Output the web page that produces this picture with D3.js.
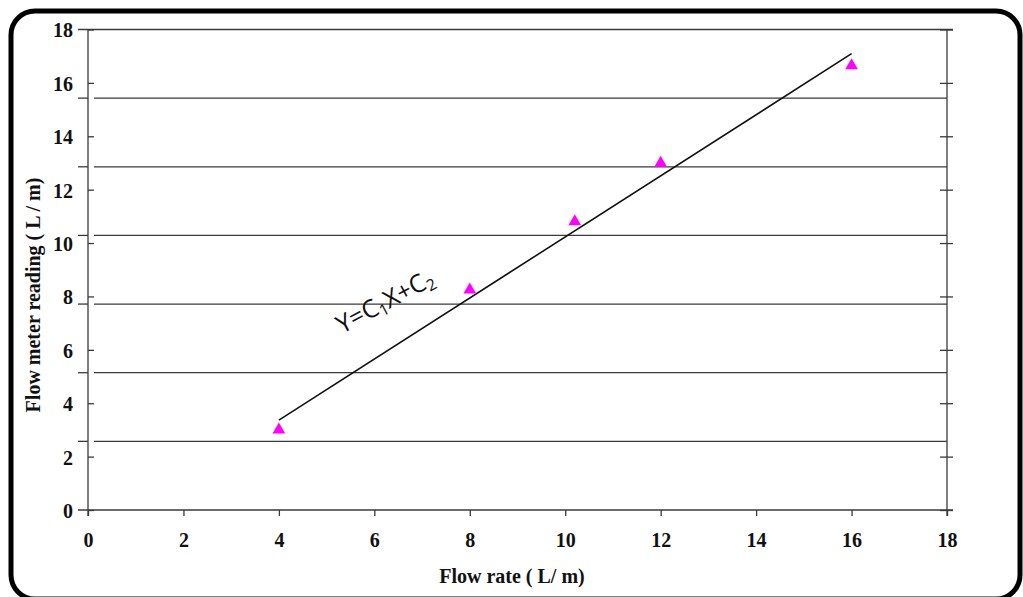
<!DOCTYPE html>
<html>
<head>
<meta charset="utf-8">
<script src="https://cdn.jsdelivr.net/npm/d3@7"></script>
<style>
  html, body { margin: 0; padding: 0; background: #fff; }
  svg { display: block; }
  .tick text { font-family: "Liberation Serif", "Times New Roman", serif; font-weight: bold; font-size: 20px; fill: #111; }
  .axis path.domain { display: none; }
  .axis line { stroke: #3a3a3a; stroke-width: 1.3; }
</style>
</head>
<body>
<svg id="chart" width="1023" height="597"></svg>
<script>
// Measured points: actual flow rate vs. flow meter reading
const flowRate   = [4, 8, 10.2, 12, 16];
const meterRead  = [3.0, 8.25, 10.8, 13.0, 16.65];

// Linear fit Y = C1*X + C2 drawn over the measured range
const fitC1 = 1.144;
const fitC2 = -1.21;
const fitRange = [4, 16];

// Axis ticks and horizontal reference lines
const xTicks = [0, 2, 4, 6, 8, 10, 12, 14, 16, 18];
const yTicks = [0, 2, 4, 6, 8, 10, 12, 14, 16, 18];
const refLines = [1, 2, 3, 4, 5, 6].map(k => k * 18 / 7);

const svg = d3.select("#chart");

// Rounded outer frame
svg.append("rect")
  .attr("x", 11).attr("y", 11)
  .attr("width", 1009).attr("height", 588)
  .attr("rx", 24).attr("ry", 24)
  .attr("fill", "none").attr("stroke", "#000").attr("stroke-width", 5);

const x = d3.scaleLinear().domain([0, 18]).range([88, 947]);
const y = d3.scaleLinear().domain([0, 18]).range([510, 29.5]);

const lineColor = "#3a3a3a";
const g = svg.append("g");

// Horizontal reference lines, with short outer stubs left of the axis
g.selectAll("line.ref").data(refLines).join("line")
  .attr("class", "ref")
  .attr("x1", x(0) + 6).attr("x2", x(18))
  .attr("y1", d => y(d)).attr("y2", d => y(d))
  .attr("stroke", lineColor).attr("stroke-width", 1.3);
g.selectAll("line.stub").data(refLines).join("line")
  .attr("class", "stub")
  .attr("x1", x(0) - 10).attr("x2", x(0))
  .attr("y1", d => y(d)).attr("y2", d => y(d))
  .attr("stroke", lineColor).attr("stroke-width", 1.3);

// Top and bottom boundary lines
g.selectAll("line.edge").data([0, 18]).join("line")
  .attr("class", "edge")
  .attr("x1", x(0) - 10).attr("x2", x(18) + 6)
  .attr("y1", d => y(d)).attr("y2", d => y(d))
  .attr("stroke", lineColor).attr("stroke-width", 1.3);

// Left and right vertical axis lines
g.selectAll("line.vax").data([0, 18]).join("line")
  .attr("class", "vax")
  .attr("x1", d => x(d)).attr("x2", d => x(d))
  .attr("y1", y(18)).attr("y2", y(0) + 6)
  .attr("stroke", lineColor).attr("stroke-width", 1.3);

// Bottom axis
svg.append("g").attr("class", "axis")
  .attr("transform", `translate(0,${y(0)})`)
  .call(d3.axisBottom(x).tickValues(xTicks).tickSize(6).tickPadding(17).tickFormat(d3.format("d")));

// Left axis, ticks pointing inward
svg.append("g").attr("class", "axis")
  .attr("transform", `translate(${x(0)},0)`)
  .call(d3.axisLeft(y).tickValues(yTicks).tickSizeInner(-6).tickSizeOuter(0).tickPadding(15).tickFormat(d3.format("d")))
  .selectAll("text").attr("dy", "0.37em");

// Right axis, ticks crossing the line, no labels
svg.append("g").attr("class", "axis")
  .attr("transform", `translate(${x(18)},0)`)
  .call(d3.axisRight(y).tickValues(yTicks).tickSize(6).tickFormat(""))
  .selectAll("line").attr("x1", -7);

// Fit line
svg.append("line")
  .attr("x1", x(fitRange[0])).attr("y1", y(fitC1 * fitRange[0] + fitC2))
  .attr("x2", x(fitRange[1])).attr("y2", y(fitC1 * fitRange[1] + fitC2))
  .attr("stroke", "#111").attr("stroke-width", 1.6);

// Measured points as magenta triangles
const tri = d3.symbol().type(d3.symbolTriangle).size(70);
svg.selectAll("path.pt").data(flowRate.map((v, i) => [v, meterRead[i]])).join("path")
  .attr("class", "pt")
  .attr("d", tri)
  .attr("transform", d => `translate(${x(d[0])},${y(d[1])})`)
  .attr("fill", "#ff00ff");

// Equation label along the fit line
const eq = svg.append("text")
  .attr("transform", "translate(342,334) rotate(-28)")
  .attr("font-family", "'Open Sans', 'Liberation Sans', sans-serif")
  .attr("font-size", 25)
  .attr("fill", "#111");
eq.append("tspan").text("Y=C");
eq.append("tspan").text("1").attr("font-size", 16).attr("dy", 4);
eq.append("tspan").text("X+C").attr("dy", -4);
eq.append("tspan").text("2").attr("font-size", 16).attr("dy", 4);

// Axis titles
svg.append("text")
  .attr("x", 512).attr("y", 583)
  .attr("text-anchor", "middle")
  .attr("font-family", "'Liberation Serif', 'Times New Roman', serif")
  .attr("font-weight", "bold").attr("font-size", 20)
  .attr("fill", "#111")
  .text("Flow rate  ( L/ m)");

svg.append("text")
  .attr("transform", "translate(40,295) rotate(-90)")
  .attr("text-anchor", "middle")
  .attr("font-family", "'Liberation Serif', 'Times New Roman', serif")
  .attr("font-weight", "bold").attr("font-size", 20)
  .attr("fill", "#111")
  .text("Flow meter  reading ( L / m)");
</script>
</body>
</html>
